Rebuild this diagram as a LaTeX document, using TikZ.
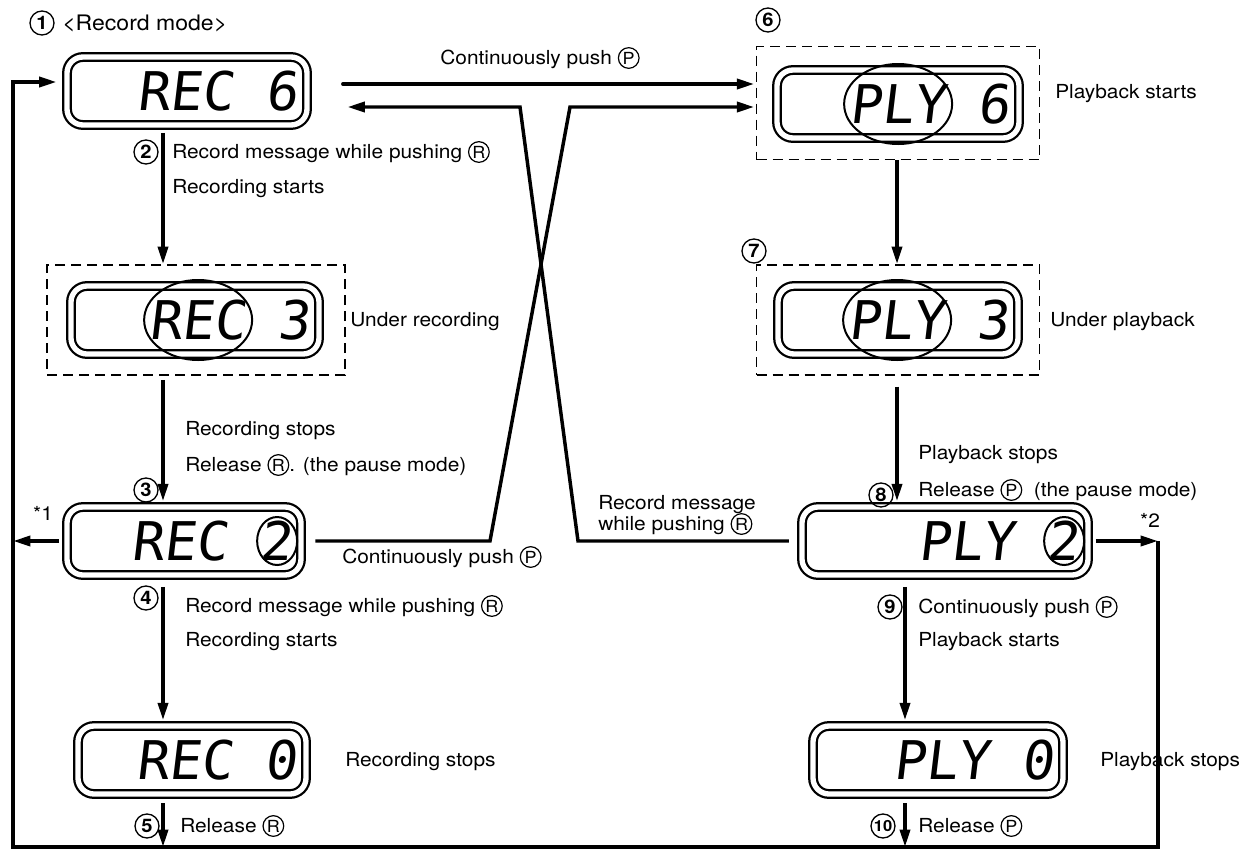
\documentclass[tikz,border=0pt]{standalone}
\usepackage{fontspec}
\setmainfont{TeX Gyre Heros}[FakeStretch=1.08]
\newfontfamily\lcd{DejaVu Sans Mono}[FakeSlant=0.12]
\usetikzlibrary{arrows.meta,shapes.geometric}
\newcommand\cl[1]{\tikz[baseline=(cc.base)]\node[draw,circle,line width=0.9pt,inner sep=0pt,minimum size=15.5pt,font=\fontsize{12.5}{12.5}\selectfont](cc){#1};}
\begin{document}
\begin{tikzpicture}[x=0.75pt,y=-0.75pt,
  disp/.style={draw,double,line width=1.7pt,double distance=4pt,rounded corners=12pt,
    minimum width=#1*0.75pt-10*0.75pt,minimum height=68*0.75pt,inner sep=0pt},
  lcd/.style={font=\lcd\fontsize{40}{40}\selectfont,inner sep=0pt},
  hl/.style={draw,ellipse,line width=1.5pt,inner sep=0pt,minimum width=108*0.75pt,minimum height=80*0.75pt},
  dg/.style={draw,ellipse,line width=1.5pt,inner sep=0pt,minimum width=40*0.75pt,minimum height=48*0.75pt},
  dbox/.style={draw,line width=1.4pt,dash pattern=on 7.5pt off 4.5pt,inner sep=0pt},
  lab/.style={inner sep=0pt,font=\fontsize{14.5}{16}\selectfont},
  numc/.style={draw,circle,line width=1pt,inner sep=0pt,minimum size=18pt,font=\fontsize{14}{14}\selectfont\bfseries},
  conn/.style={line width=2.6pt},
  arr/.style={conn,-{Triangle[length=13pt,width=7.5pt]}}]
\useasboundingbox (0,0) rectangle (1243,850);

% dashed boxes
\node[dbox,minimum width=298*0.75pt,minimum height=110*0.75pt] (db3) at (196,320) {};
\node[dbox,minimum width=283*0.75pt,minimum height=113*0.75pt] (db6) at (898,103) {};
\node[dbox,minimum width=283*0.75pt,minimum height=110*0.75pt] (db7) at (898,320) {};

% displays
\node[disp=250] (d1) at (187,91) {};
\node[disp=258] (d3) at (195,320) {};
\node[disp=244] (d2) at (184,541) {};
\node[disp=238] (d0) at (192,760) {};
\node[disp=252] (d6) at (898,104) {};
\node[disp=250] (d7) at (898,320) {};
\node[disp=296] (d8) at (945,541) {};
\node[disp=260] (d10) at (938,760) {};

% display texts
\node[lcd,anchor=east] (t1) at ([xshift=-10*0.75pt]d1.east) {REC 6};
\node[lcd,anchor=east] (t3) at ([xshift=-10*0.75pt]d3.east) {REC 3};
\node[lcd,anchor=east] (t2) at ([xshift=-10*0.75pt]d2.east) {REC 2};
\node[lcd,anchor=east] (t0) at ([xshift=-10*0.75pt]d0.east) {REC 0};
\node[lcd,anchor=east] (t6) at ([xshift=-10*0.75pt]d6.east) {PLY 6};
\node[lcd,anchor=east] (t7) at ([xshift=-10*0.75pt]d7.east) {PLY 3};
\node[lcd,anchor=east] (t8) at ([xshift=-10*0.75pt]d8.east) {PLY 2};
\node[lcd,anchor=east] (t10) at ([xshift=-10*0.75pt]d10.east) {PLY 0};

% highlight ellipses
\node[hl] (e3) at ([xshift=-112*0.75pt]t3.east) {};
\node[hl] (e6) at ([xshift=-112*0.75pt]t6.east) {};
\node[hl] (e7) at ([xshift=-112*0.75pt]t7.east) {};
\node[dg] (g2) at ([xshift=-15*0.75pt]t2.east) {};
\node[dg] (g8) at ([xshift=-15*0.75pt]t8.east) {};

% helper coordinates
\coordinate (xa) at (163,0);
\coordinate (xb) at (897,0);
\coordinate (xc) at (905,0);
\coordinate (rc) at (1158,541);
\coordinate (rb) at (1158,847);
\coordinate (lb) at (13,847);
\coordinate (lt) at (13,82);
\coordinate (ya) at (0,84);
\coordinate (b1) at (490,541);
\coordinate (b2) at (570,107);
\coordinate (c1) at (578,541);
\coordinate (c2) at (520,107);

% vertical arrows
\draw[arr,shorten <=5pt] (xa |- d1.south) -- (xa |- db3.north);
\draw[arr,shorten <=3pt,shorten >=3.5pt] (xa |- db3.south) -- (xa |- d2.north);
\draw[arr,shorten <=8pt,shorten >=3.5pt] (xa |- d2.south) -- (xa |- d0.north);
\draw[arr,shorten <=6pt] (xa |- d0.south) -- (xa |- lb);
\draw[arr] (xb |- db6.south) -- (xb |- db7.north);
\draw[arr,shorten <=8pt,shorten >=3.5pt] (xb |- db7.south) -- (xb |- d8.north);
\draw[arr,shorten <=8pt,shorten >=3.5pt] (xc |- d8.south) -- (xc |- d10.north);
\draw[arr,shorten <=6pt] (xc |- d10.south) -- (xc |- lb);

% return path and side arrows
\draw[arr,shorten >=7pt] (rc) -- (rb) -- (lb) -- (lt) -- (lt -| d1.west);
\draw[arr,shorten <=5pt] (d8.east) -- (rc);
\draw[arr,shorten <=5pt] (d2.west) -- (d2.west -| lb);

% crossing connectors
\draw[arr,line cap=round,shorten <=26pt,shorten >=1pt] (ya -| d1.east) -- (ya -| db6.west);
\draw[arr,shorten <=10pt,shorten >=1pt] (b1 -| d2.east) -- (b1) -- (b2) -- (b2 -| db6.west);
\draw[arr,shorten <=9pt,shorten >=29.5pt] (c1 -| d8.west) -- (c1) -- (c2) -- (c2 -| d1.east);

% labels, left column
\node[numc] (n1) at (42,23) {1};
\node[lab,anchor=west,font=\fontsize{16}{18}\selectfont] (hdr) at (62,23) {<Record mode>};
\node[numc] (n2) at (146,152) {2};
\node[lab,anchor=west] (l2a) at (172,152) {Record message while pushing \cl{R}};
\node[lab,anchor=west] (l2b) at (172,189) {Recording starts};
\node[lab,anchor=west] (l3u) at (350,322) {Under recording};
\node[lab,anchor=west] (l3a) at (185,431) {Recording stops};
\node[lab,anchor=west] (l3b) at (185,465) {Release \cl{R}. (the pause mode)};
\node[numc] (n3) at (146,490) {3};
\node[lab] (s1) at (43,513) {*1};
\node[lab,anchor=west] (lcp) at (342,557) {Continuously push \cl{P}};
\node[numc] (n4) at (146,598) {4};
\node[lab,anchor=west] (l4a) at (185,606) {Record message while pushing \cl{R}};
\node[lab,anchor=west] (l4b) at (185,642) {Recording starts};
\node[lab,anchor=west] (l0) at (345,762) {Recording stops};
\node[numc] (n5) at (147,826) {5};
\node[lab,anchor=west] (l5) at (180,826) {Release \cl{R}};

% labels, right column
\node[lab] (lca) at (540,58) {Continuously push \cl{P}};
\node[numc] (n6) at (768,20) {6};
\node[lab,anchor=west] (l6) at (1055,94) {Playback starts};
\node[numc] (n7) at (754,251) {7};
\node[lab,anchor=west] (l7) at (1050,322) {Under playback};
\node[lab,anchor=west] (l8a) at (918,455) {Playback stops};
\node[lab,anchor=west] (l8b) at (918,490) {Release \cl{P}\ \ (the pause mode)};
\node[numc] (n8) at (881,495) {8};
\node[lab,anchor=west] (lrm) at (598,505) {Record message};
\node[lab,anchor=west] (lwp) at (598,524) {while pushing \cl{R}};
\node[lab] (s2) at (1150,520) {*2};
\node[numc] (n9) at (890,607) {9};
\node[lab,anchor=west] (l9a) at (918,607) {Continuously push \cl{P}};
\node[lab,anchor=west] (l9b) at (918,642) {Playback starts};
\node[lab,anchor=west] (l10) at (1100,762) {Playback stops};
\node[numc,font=\fontsize{11.5}{11.5}\selectfont\bfseries] (n10) at (883,826) {10};
\node[lab,anchor=west] (l10r) at (918,826) {Release \cl{P}};
\end{tikzpicture}
\end{document}
